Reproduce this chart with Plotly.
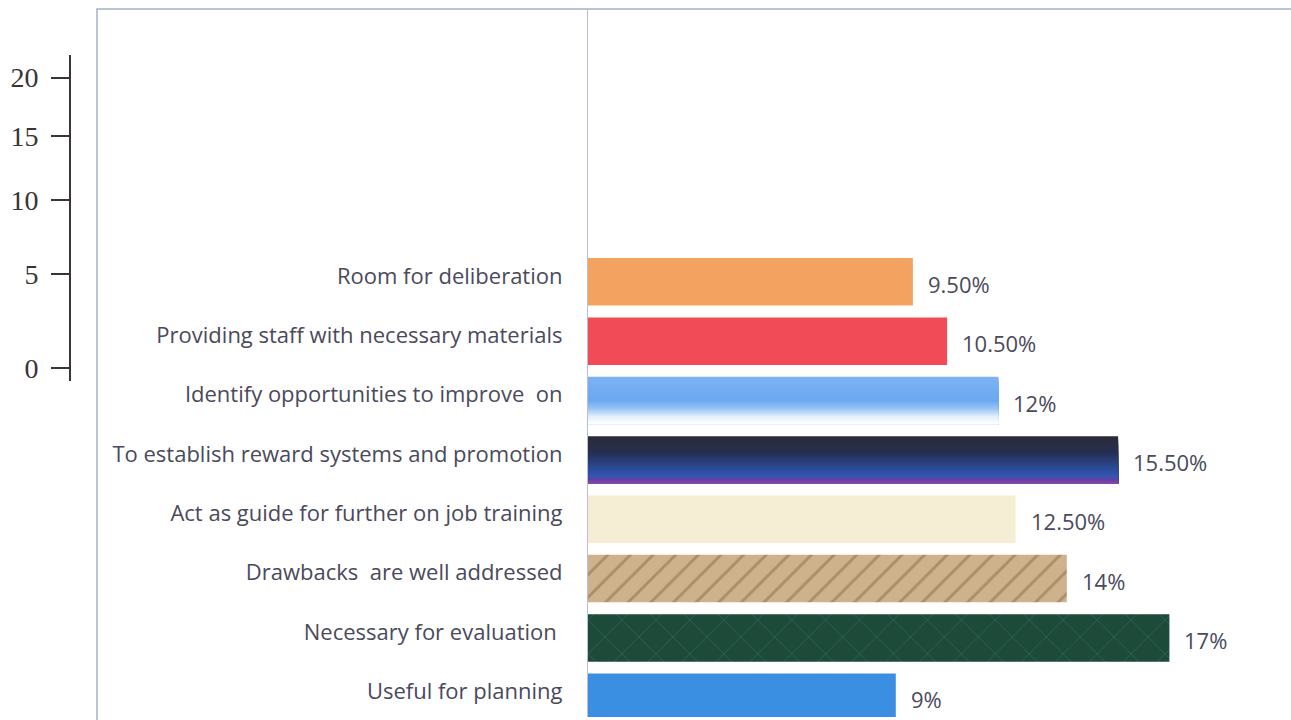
import plotly.graph_objects as go

# Survey responses: usefulness of performance appraisal (share of respondents, %)
categories = [
    "Room for deliberation",
    "Providing staff with necessary materials",
    "Identify opportunities to improve  on",
    "To establish reward systems and promotion",
    "Act as guide for further on job training",
    "Drawbacks  are well addressed",
    "Necessary for evaluation ",
    "Useful for planning",
]
values = [9.5, 10.5, 12, 15.5, 12.5, 14, 17, 9]
value_labels = ["9.50%", "10.50%", "12%", "15.50%", "12.50%", "14%", "17%", "9%"]

# Decorative scale on the left
scale_labels = ["0", "5", "10", "15", "20"]

W, H = 1291, 720
TEXT = "#4a4a5c"
FONT = "Open Sans"

fig = go.Figure()


def hex_to_rgb(h):
    h = h.lstrip("#")
    return tuple(int(h[i:i + 2], 16) for i in (0, 2, 4))


def lerp_stops(stops, t):
    for (t0, c0), (t1, c1) in zip(stops, stops[1:]):
        if t0 <= t <= t1:
            f = 0 if t1 == t0 else (t - t0) / (t1 - t0)
            a, b = hex_to_rgb(c0), hex_to_rgb(c1)
            return "rgb(%d,%d,%d)" % tuple(round(a[i] + (b[i] - a[i]) * f) for i in range(3))
    return stops[-1][1]


BAR_W = 0.8

# Plain / patterned fills
styles = {
    0: dict(color="#f3a35f"),
    1: dict(color="#f14b57"),
    4: dict(color="#f6eed4"),
    5: dict(color="#c9ad86",
            pattern=dict(shape="/", bgcolor="#cdb28b", fgcolor="#8a6a48",
                         size=16, solidity=0.18, fillmode="overlay")),
    6: dict(color="#1f4c3b",
            pattern=dict(shape="x", bgcolor="#1e4a3a", fgcolor="#2f7a62",
                         size=24, solidity=0.08, fillmode="overlay")),
    7: dict(color="#3a8fe3"),
}
for i, st in styles.items():
    fig.add_trace(go.Bar(
        x=[values[i]], y=[categories[i]], orientation="h", width=BAR_W,
        marker=dict(line=dict(width=0), **st), showlegend=False, hoverinfo="skip",
    ))

# Vertical gradient fills: each strip runs from its start to the bar's lower
# edge and the next one is painted over it, so no seams show between strips.
gradients = {
    2: [(0, "#7cb2f3"), (0.5, "#6aa8f0"), (0.68, "#9cc6f5"), (0.84, "#e4f0fc"), (1, "#ffffff")],
    3: [(0, "#2b2a36"), (0.35, "#262f52"), (0.7, "#2b4c9c"), (0.86, "#3556b4"),
        (0.92, "#6a3d9e"), (1, "#8a4aae")],
}
N = 30
for i, stops in gradients.items():
    for k in range(N):
        t = (k + 0.5) / N
        start = -BAR_W / 2 + k * BAR_W / N
        fig.add_trace(go.Bar(
            x=[values[i]], y=[categories[i]], orientation="h",
            width=BAR_W / 2 - start, offset=start,
            marker=dict(color=lerp_stops(stops, t), line=dict(width=0)),
            showlegend=False, hoverinfo="skip",
        ))

# Value labels just right of each bar
for cat, v, lab in zip(categories, values, value_labels):
    fig.add_annotation(
        x=v, y=cat, text=lab, showarrow=False, xanchor="left", yanchor="middle",
        xshift=13, yshift=-2, font=dict(family=FONT, size=22, color=TEXT),
    )

# Invisible trace to host the decorative left scale
fig.add_trace(go.Scatter(x=[], y=[], xaxis="x2", yaxis="y2", showlegend=False))

x0_px = 588
px_per_unit = 34.2
top_px = 9
row_px = 59.6
first_center = 283
r_top = -(first_center - top_px) / row_px
r_bot = r_top + (H - top_px) / row_px

fig.update_layout(
    width=W, height=H,
    margin=dict(l=0, r=0, t=0, b=0),
    paper_bgcolor="white", plot_bgcolor="white",
    barmode="overlay", bargap=0.2,
    xaxis=dict(domain=[x0_px / W, 1], range=[0, (W - x0_px) / px_per_unit],
               showgrid=False, zeroline=False, showticklabels=False, showline=False),
    yaxis=dict(domain=[0, 1 - top_px / H], range=[r_bot, r_top],
               categoryorder="array", categoryarray=categories,
               showgrid=False, zeroline=False, showline=True,
               linecolor="#bcbcd8", linewidth=1.2, ticks="",
               ticklabelstandoff=20, ticklabelshift=6,
               tickfont=dict(family=FONT, size=22, color=TEXT)),
    xaxis2=dict(domain=[71 / W, 90 / W], anchor="y2", visible=False, range=[0, 1]),
    yaxis2=dict(domain=[(H - 383) / H, (H - 55) / H], anchor="x2", range=[0, 328],
                showline=True, linecolor="#3c3434", linewidth=2,
                ticks="outside", ticklen=18, tickwidth=2, tickcolor="#3c3434",
                tickvals=[13, 108, 182, 246, 305], ticktext=scale_labels,
                ticklabelstandoff=7,
                showgrid=False, zeroline=False,
                tickfont=dict(family="Liberation Serif", size=28, color="#3c3434")),
    shapes=[dict(type="rect", xref="paper", yref="paper",
                 x0=97 / W, x1=1.02, y0=-0.02, y1=1 - top_px / H,
                 line=dict(color="#a3b2cc", width=1.5), layer="below")],
)

fig.write_html("out.html")
